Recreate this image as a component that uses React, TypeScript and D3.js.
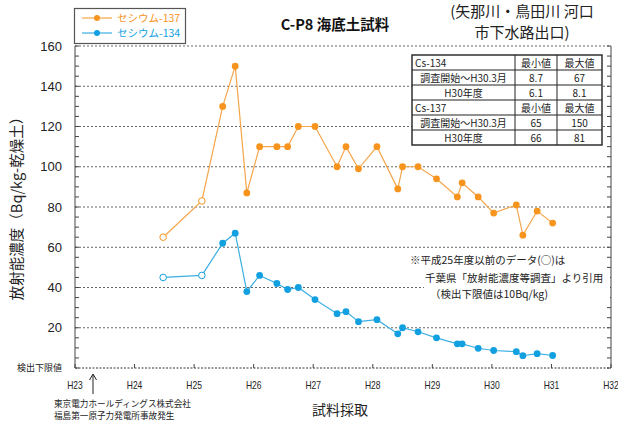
import React, { useEffect } from 'react';
import * as d3 from 'd3';

// sampling dates as year positions (H23 = 23.0)
const sampleDates = [24.48, 25.13, 25.48, 25.69, 25.885, 26.1, 26.39, 26.57, 26.75, 27.03, 27.4, 27.55, 27.76, 28.07, 28.42, 28.5, 28.76, 29.07, 29.42, 29.5, 29.77, 30.03, 30.41, 30.52, 30.76, 31.02];
// first samples are from 千葉県 survey (open circles)
const openCount = 2;
const cs137 = [65, 83, 130, 150, 87, 110, 110, 110, 120, 120, 100, 110, 99, 110, 89, 100, 100, 94, 85, 92, 85, 77, 81, 66, 78, 72];
const cs134 = [45, 46, 62, 67, 38, 46, 42, 39, 40, 34, 27, 28, 23, 24, 17, 20, 18, 15, 12, 12, 9.8, 8.7, 8.1, 6.1, 7.1, 6.2];

const yearTicks = [23, 24, 25, 26, 27, 28, 29, 30, 31, 32];
const valueTicks = [20, 40, 60, 80, 100, 120, 140, 160];

const tableRows = [
  ['Cs-134', '最小値', '最大値'],
  ['調査開始～H30.3月', '8.7', '67'],
  ['H30年度', '6.1', '8.1'],
  ['Cs-137', '最小値', '最大値'],
  ['調査開始～H30.3月', '65', '150'],
  ['H30年度', '66', '81'],
];

const ORANGE = '#F7941D';
const ORANGE_LINE = '#F5A54A';
const BLUE = '#12A0E0';
const BLUE_LINE = '#3AAEE2';
const JP = '"Noto Sans CJK JP", sans-serif';
const NUM = '"Liberation Sans", Arial, sans-serif';

const W = 618;
const H = 422;

export default function App() {
  useEffect(() => {
    document.body.style.margin = '0';
  }, []);

  const x = d3.scaleLinear().domain([23, 32]).range([75, 611]);
  const y = d3.scaleLinear().domain([0, 160]).range([368, 46]);

  const line = d3.line<number>()
    .x((_, i) => x(sampleDates[i]))
    .y((d) => y(d));

  const series = [
    { name: 'セシウム-137', values: cs137, color: ORANGE, lineColor: ORANGE_LINE },
    { name: 'セシウム-134', values: cs134, color: BLUE, lineColor: BLUE_LINE },
  ];

  const colX = [412, 515, 557, 602];
  const rowH = 15;
  const tableTop = 55;

  return (
    <svg width={W} height={H} style={{ display: 'block', background: '#fff' }}>
      {/* gridlines */}
      {valueTicks.map((v) => (
        <line key={v} x1={x(23)} x2={x(32)} y1={y(v)} y2={y(v)} stroke="#666" strokeWidth={1} strokeDasharray="2,2" />
      ))}
      <line x1={x(23)} x2={x(32)} y1={y(0)} y2={y(0)} stroke="#333" strokeWidth={1} strokeDasharray="2,1.5" />

      {/* axes frame */}
      <line x1={x(23)} x2={x(23)} y1={y(160)} y2={y(0)} stroke="#444" strokeWidth={1} />
      <line x1={x(32)} x2={x(32)} y1={y(160)} y2={y(0)} stroke="#444" strokeWidth={1} />
      {d3.range(0, 161, 5).map((v) => (
        <g key={'t' + v}>
          <line x1={x(23)} x2={x(23) + 4} y1={y(v)} y2={y(v)} stroke="#444" />
          <line x1={x(32)} x2={x(32) - 4} y1={y(v)} y2={y(v)} stroke="#444" />
        </g>
      ))}
      {yearTicks.map((t) => (
        <line key={'xt' + t} x1={x(t)} x2={x(t)} y1={y(0)} y2={y(0) - 4} stroke="#444" />
      ))}

      {/* y tick labels */}
      {valueTicks.map((v) => (
        <text key={'yl' + v} x={62} y={y(v)} dy="0.35em" textAnchor="end" fontFamily={NUM} fontSize={13} fill="#222">{v}</text>
      ))}
      <text x={62} y={y(0)} dy="0.35em" textAnchor="end" fontFamily={JP} fontSize={9} fill="#222">検出下限値</text>

      {/* x tick labels */}
      {yearTicks.map((t) => (
        <text key={'xl' + t} x={x(t)} y={386} dy="0.35em" textAnchor="middle" fontFamily={NUM} fontSize={10} fill="#222"
          transform={`translate(${x(t)},0) scale(0.85,1) translate(${-x(t)},0)`}>{'H' + t}</text>
      ))}

      {/* y axis title */}
      <text transform="translate(17,205) rotate(-90)" textAnchor="middle" dy="0.35em" fontFamily={JP} fontSize={14.5} fill="#222">放射能濃度（Bq/kg-乾燥土）</text>

      {/* x axis title and accident note */}
      <text x={340} y={410} textAnchor="middle" dy="0.35em" fontFamily={JP} fontSize={14} fill="#222">試料採取</text>
      <line x1={93} x2={93} y1={394} y2={375} stroke="#222" strokeWidth={1} />
      <path d="M89.5,380 L93,374 L96.5,380" fill="none" stroke="#222" strokeWidth={1} />
      <text x={54} y={404} dy="0.35em" fontFamily={JP} fontSize={8.6} fill="#222">東京電力ホールディングス株式会社</text>
      <text x={54} y={416} dy="0.35em" fontFamily={JP} fontSize={8.6} fill="#222">福島第一原子力発電所事故発生</text>

      {/* note box */}
      <rect x={424} y={268} width={186} height={33} fill="#fff" />
      <text x={410} y={260} dy="0.35em" fontFamily={JP} fontSize={10.5} fill="#222">※平成25年度以前のデータ(○)は</text>
      <text x={425} y={278} dy="0.35em" fontFamily={JP} fontSize={10.5} fill="#222">千葉県「放射能濃度等調査」より引用</text>
      <text x={430} y={294} dy="0.35em" fontFamily={JP} fontSize={10.5} fill="#222">（検出下限値は10Bq/kg)</text>

      {/* series */}
      {series.map((s) => (
        <g key={s.name}>
          <path d={line(s.values) || ''} fill="none" stroke={s.lineColor} strokeWidth={1.2} />
          {s.values.map((v, i) => (
            i < openCount ? (
              <circle key={i} cx={x(sampleDates[i])} cy={y(v)} r={3.3} fill="#fff" stroke={s.color} strokeWidth={1} />
            ) : (
              <circle key={i} cx={x(sampleDates[i])} cy={y(v)} r={3.4} fill={s.color} />
            )
          ))}
        </g>
      ))}

      {/* title */}
      <text x={335} y={25} textAnchor="middle" dy="0.35em" fontFamily={JP} fontSize={14.5} fontWeight="bold" fill="#111">C-P8 海底土試料</text>
      <text x={522} y={12} textAnchor="middle" dy="0.35em" fontFamily={JP} fontSize={15} fill="#222">(矢那川・鳥田川 河口</text>
      <text x={522} y={33} textAnchor="middle" dy="0.35em" fontFamily={JP} fontSize={15} fill="#222">市下水路出口)</text>

      {/* legend */}
      <rect x={74.5} y={8.5} width={111} height={35} fill="#fff" stroke="#555" strokeWidth={1.2} />
      {series.map((s, i) => (
        <g key={'lg' + i} transform={`translate(0,${18 + i * 15})`}>
          <line x1={82} x2={112} y1={0} y2={0} stroke={s.lineColor} strokeWidth={1.2} />
          <circle cx={97} cy={0} r={3} fill={s.color} />
          <text x={117} y={0} dy="0.35em" fontFamily={JP} fontSize={10.5} fill={s.color}>{s.name}</text>
        </g>
      ))}

      {/* summary table */}
      <rect x={colX[0]} y={tableTop} width={colX[3] - colX[0]} height={rowH * tableRows.length} fill="#fff" stroke="#222" strokeWidth={1.4} />
      {tableRows.map((row, r) => (
        <g key={'tr' + r}>
          {r > 0 && <line x1={colX[0]} x2={colX[3]} y1={tableTop + r * rowH} y2={tableTop + r * rowH} stroke="#222" strokeWidth={1} />}
          {row.map((cell, c) => {
            const left = r % 3 === 0 && c === 0;
            const cx = left ? colX[0] + 3 : (colX[c] + colX[c + 1]) / 2;
            return (
              <text key={c} x={cx} y={tableTop + r * rowH + rowH / 2 + 0.5} dy="0.35em" textAnchor={left ? 'start' : 'middle'}
                fontFamily={JP} fontSize={10} fill="#222">{cell}</text>
            );
          })}
        </g>
      ))}
      {[1, 2].map((c) => (
        <line key={'tc' + c} x1={colX[c]} x2={colX[c]} y1={tableTop} y2={tableTop + rowH * tableRows.length} stroke="#222" strokeWidth={1} />
      ))}
    </svg>
  );
}
